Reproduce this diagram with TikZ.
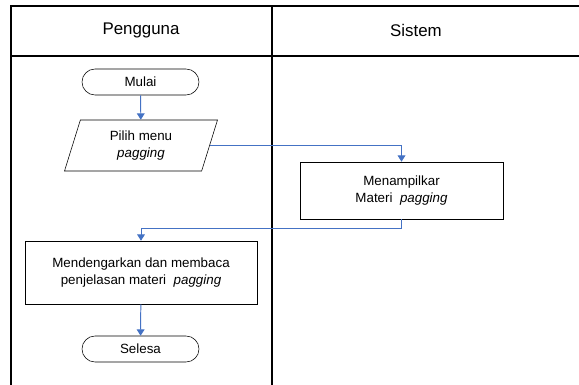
\documentclass[tikz,border=0pt]{standalone}
\usepackage{fontspec}
\setmainfont{Liberation Sans}
\usetikzlibrary{shapes,arrows.meta,positioning,calc}

\definecolor{garisbiru}{RGB}{68,114,196}

\begin{document}
\begin{tikzpicture}[
    lane/.style={line width=1.5pt, draw=black},
    header/.style={font=\fontsize{12}{14}\selectfont},
    terminal/.style={draw, rectangle, rounded corners=0.325cm, minimum width=2.925cm, minimum height=0.65cm, inner sep=0pt, font=\fontsize{9.5}{11.5}\selectfont},
    io/.style={draw, trapezium, trapezium left angle=61, trapezium right angle=119, trapezium stretches body, minimum width=3.825cm, minimum height=1.275cm, inner sep=0pt, align=center, font=\fontsize{9.5}{11.5}\selectfont},
    process/.style={draw, rectangle, inner sep=0pt, align=center, font=\fontsize{9.5}{11.5}\selectfont},
    edge/.style={-{Triangle[width=5.5pt,length=4.5pt]}, line width=0.7pt, draw=garisbiru},
]

\useasboundingbox (0,0) rectangle (14.475,-9.625);

% Lanes
\draw[lane] (14.475,-0.15) -- (0.275,-0.15) -- (0.275,-9.625);
\draw[lane] (0.275,-1.4) -- (14.475,-1.4);
\draw[lane] (6.79,-0.15) -- (6.79,-9.625);

\node[header] (pengguna) at (3.525,-0.75) {Pengguna};
\node[header] (sistem) at (10.4,-0.75) {Sistem};

% Pengguna
\node[terminal] (mulai) at (3.5125,-2.05) {Mulai};
\node[io] (pilih) at (3.525,-3.6375) {Pilih menu\\\textit{pagging}};

% Sistem
\node[process, minimum width=5.075cm, minimum height=1.425cm] (tampil) at (10.0375,-4.7625) {Menampilkar\\Materi\ \ \textit{pagging}};

% Pengguna
\node[process, minimum width=5.8cm, minimum height=1.575cm] (dengar) at (3.525,-6.8125) {Mendengarkan dan membaca\\penjelasan materi\ \ \textit{pagging}};
\node[terminal] (selesai) at (3.5125,-8.725) {Selesa};

% Edges
\draw[edge] (mulai) -- (pilih);
\draw[edge] (pilih.east) -| (tampil.north);
\draw[edge] (tampil.south) -- ++(0,-0.23) -| (dengar.north);
\draw[edge] (dengar) -- (selesai);

\end{tikzpicture}
\end{document}
